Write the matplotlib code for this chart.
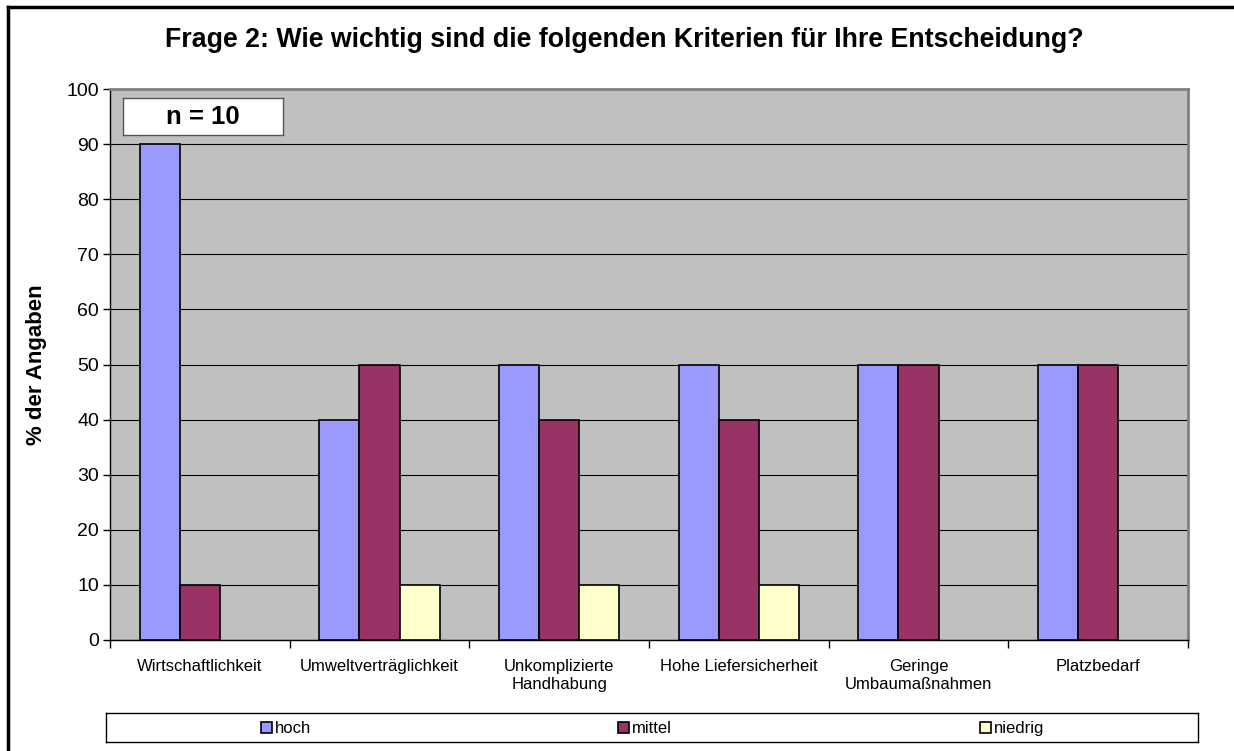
import numpy as np
import matplotlib.pyplot as plt
from matplotlib.patches import Rectangle
from matplotlib.lines import Line2D

plt.rcParams['font.family'] = ['Liberation Sans', 'DejaVu Sans']

categories = ['Wirtschaftlichkeit', 'Umweltverträglichkeit', 'Unkomplizierte\nHandhabung',
              'Hohe Liefersicherheit', 'Geringe\nUmbaumaßnahmen', 'Platzbedarf']
series_names = ['hoch', 'mittel', 'niedrig']
hoch = [90, 40, 50, 50, 50, 50]
mittel = [10, 50, 40, 40, 50, 50]
niedrig = [np.nan, 10, 10, 10, np.nan, np.nan]
colors = ['#9999FF', '#993366', '#FFFFCC']
y_ticks = list(range(0, 101, 10))

W, H = 1234, 751
fig = plt.figure(figsize=(W / 100, H / 100), dpi=100)

# outer frame (cropped on right/bottom in the original)
fig.add_artist(Line2D([8 / W, 1.0], [1 - 7 / H, 1 - 7 / H], color='black', lw=2.5))
fig.add_artist(Line2D([8 / W, 8 / W], [0.0, 1 - 7 / H], color='black', lw=2.5))

ax = fig.add_axes([110 / W, 1 - 640 / H, (1188 - 110) / W, (640 - 89) / H])
ax.set_facecolor('#C0C0C0')

x = np.arange(len(categories))
bw = 0.223
for i, (vals, c, name) in enumerate(zip([hoch, mittel, niedrig], colors, series_names)):
    ax.bar(x + (i - 1) * bw, vals, width=bw, color=c, edgecolor='black', linewidth=1.2,
           label=name, zorder=3)

ax.set_xlim(-0.5, len(categories) - 0.5)
ax.set_ylim(0, 100)
ax.set_yticks(y_ticks)
ax.yaxis.grid(True, color='black', linewidth=0.8, zorder=1)
ax.set_axisbelow(True)
ax.tick_params(axis='y', labelsize=14, length=5, width=1, direction='out', pad=3)
ax.set_xticks(x)
ax.set_xticklabels(categories, fontsize=12)
ax.set_xticks(np.arange(len(categories) + 1) - 0.5, minor=True)
ax.tick_params(axis='x', which='major', length=0, pad=14)
ax.tick_params(axis='x', which='minor', length=6, width=1)
for lab in ax.get_xticklabels():
    lab.set_verticalalignment('top')
    lab.set_linespacing(1.25)

ax.spines['top'].set_color('#808080')
ax.spines['right'].set_color('#808080')
ax.spines['top'].set_linewidth(2)
ax.spines['right'].set_linewidth(2)
ax.spines['left'].set_linewidth(1)
ax.spines['bottom'].set_linewidth(1)

ax.set_ylabel('% der Angaben', fontsize=16, fontweight='bold', labelpad=14)

fig.text(624 / W, 1 - 40 / H, 'Frage 2: Wie wichtig sind die folgenden Kriterien für Ihre Entscheidung?',
         ha='center', va='center', fontsize=19.3, fontweight='bold')

# n box
nb = fig.add_axes([123 / W, 1 - 135 / H, (283 - 123) / W, (135 - 98) / H])
nb.set_xticks([])
nb.set_yticks([])
nb.set_facecolor('white')
for s in nb.spines.values():
    s.set_color('#555555')
    s.set_linewidth(1)
nb.text(0.5, 0.5, 'n = 10', ha='center', va='center', fontsize=18.5, fontweight='bold',
        transform=nb.transAxes)

# legend box
lx0, lx1 = 106, 1198
lb = fig.add_axes([lx0 / W, 1 - 742 / H, (lx1 - lx0) / W, (742 - 713) / H])
lb.set_xticks([])
lb.set_yticks([])
lb.set_facecolor('white')
for s in lb.spines.values():
    s.set_color('black')
    s.set_linewidth(1)
entry_x = [261, 618, 980]
for ex, name, c in zip(entry_x, series_names, colors):
    fx = (ex - lx0) / (lx1 - lx0)
    lb.add_patch(Rectangle((fx, 0.3), 11 / (lx1 - lx0), 0.38, transform=lb.transAxes,
                           facecolor=c, edgecolor='black', lw=1.2))
    lb.text(fx + 14 / (lx1 - lx0), 0.47, name, ha='left', va='center', fontsize=12,
            transform=lb.transAxes)

fig.savefig('out.png', dpi=100)
